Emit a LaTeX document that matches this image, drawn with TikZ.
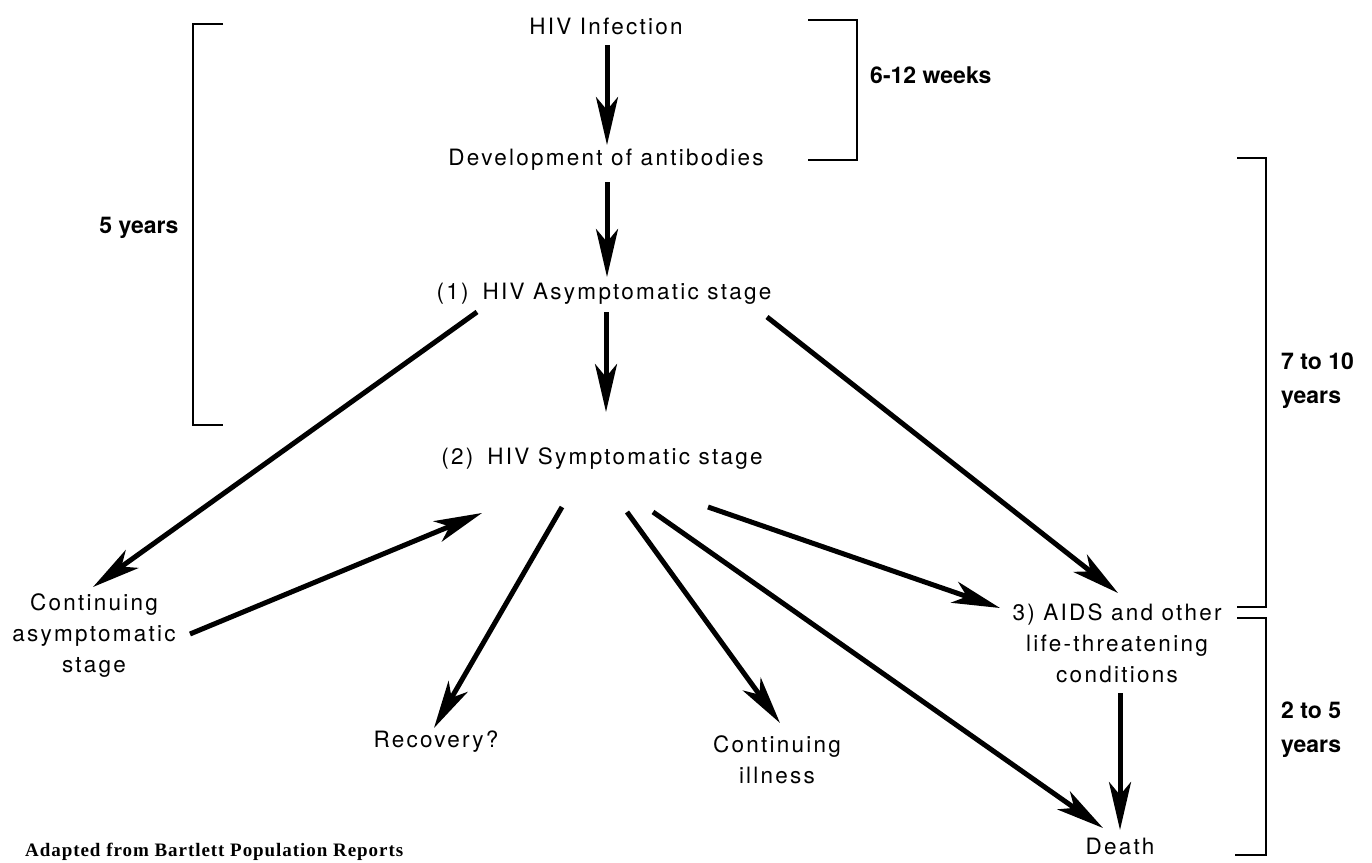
\documentclass[tikz,border=0pt]{standalone}
\usepackage{fontspec}
\setmainfont{TeX Gyre Heros}
\newfontfamily\labfont{TeX Gyre Heros}[LetterSpace=10]
\newfontfamily\srcfont{Liberation Serif}[LetterSpace=5]
\usetikzlibrary{arrows.meta}
\begin{document}
\begin{tikzpicture}[x=1pt,y=-1pt,
  lab/.style={font=\labfont\fontsize{22.5}{31}\selectfont, inner sep=0pt, align=center},
  yrs/.style={font=\bfseries\fontsize{23}{34}\selectfont, inner sep=0pt, align=left, anchor=west},
  arr/.style={line width=5pt, -{Stealth[length=48pt,width=22pt,inset=13pt]}},
  brk/.style={line width=2pt}]
\useasboundingbox[fill=white] (0,0) rectangle (1372,862);

% nodes
\node[lab] (inf) at (606,26) {HIV Infection};
\node[lab] (ab) at (606,160) {Development of antibodies};
\node[lab] (s1) at (604,294) {(1)\hspace{14pt}HIV Asymptomatic stage};
\node[lab] (s2) at (602,459) {(2)\hspace{14pt}HIV Symptomatic stage};
\node[lab] (cas) at (94,636) {Continuing\\asymptomatic\\stage};
\node[lab] (rec) at (436,742) {Recovery?};
\node[lab] (cill) at (777,760) {Continuing\\illness};
\node[lab] (aids) at (1117,643) {3) AIDS and other\\life-threatening\\conditions};
\node[lab] (death) at (1120,846) {Death};

\node[yrs] (w612) at (870,75) {6-12 weeks};
\node[yrs, anchor=center] (y5) at (139,228) {5 years};
\node[yrs] (y710) at (1281,381) {7 to 10\\years};
\node[yrs] (y25) at (1281,730) {2 to 5\\years};
\node[font=\srcfont\bfseries\fontsize{19}{22}\selectfont, inner sep=0pt, anchor=west] (src) at (25,852) {Adapted from Bartlett Population Reports};

% brackets
\draw[brk] (808,20) -- (857,20) -- (857,160) -- (808,160);
\draw[brk] (223,24) -- (193,24) -- (193,425) -- (223,425);
\draw[brk] (1237,158) -- (1266,158) -- (1266,607) -- (1237,607);
\draw[brk] (1237,618) -- (1266,618) -- (1266,855) -- (1235,855);

% arrows
\draw[arr] ([shift={(1,19)}]inf.center) -- ([shift={(1,-15)}]ab.center);
\draw[arr] ([shift={(1,22)}]ab.center) -- ([shift={(3,-17)}]s1.center);
\draw[arr] ([shift={(2,18)}]s1.center) -- ([shift={(4,-47)}]s2.center);
\draw[arr] ([shift={(-127,18)}]s1.center) -- ([shift={(-1,-49)}]cas.center);
\draw[arr] ([shift={(96,-2)}]cas.center) -- ([shift={(-120,54)}]s2.center);
\draw[arr] ([shift={(-40,48)}]s2.center) -- ([shift={(-2,-14)}]rec.center);
\draw[arr] ([shift={(25,53)}]s2.center) -- ([shift={(3,-37)}]cill.center);
\draw[arr] ([shift={(51,53)}]s2.center) -- ([shift={(-17,-18)}]death.center);
\draw[arr] ([shift={(106,48)}]s2.center) -- ([shift={(-117,-35)}]aids.center);
\draw[arr] ([shift={(163,23)}]s1.center) -- ([shift={(1,-50)}]aids.center);
\draw[arr] ([shift={(3,50)}]aids.center) -- ([shift={(0,-16)}]death.center);
\end{tikzpicture}
\end{document}
